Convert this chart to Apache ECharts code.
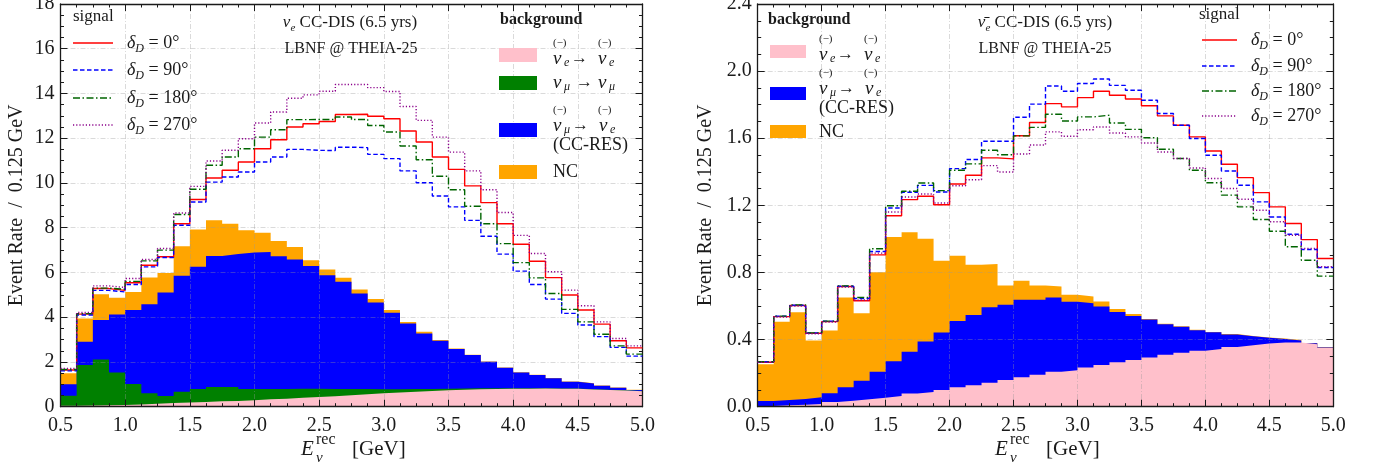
<!DOCTYPE html>
<html>
<head>
<meta charset="utf-8">
<script src="https://cdn.jsdelivr.net/npm/echarts@6/dist/echarts.min.js"></script>
<style>
html,body{margin:0;padding:0;background:#ffffff;}
#chart{width:1385px;height:467px;}
</style>
</head>
<body>
<div id="chart"></div>
<script>
// ---------------- data ----------------
// bin edges of E_nu^rec [GeV], 0.125 GeV bins
const binEdges = [0.5,0.625,0.75,0.875,1.0,1.125,1.25,1.375,1.5,1.625,1.75,1.875,2.0,2.125,2.25,2.375,2.5,2.625,2.75,2.875,3.0,3.125,3.25,3.375,3.5,3.625,3.75,3.875,4.0,4.125,4.25,4.375,4.5,4.625,4.75,4.875,5.0];

// Left panel: nu_e CC-DIS, backgrounds (per bin)
const L_nuee  = [0.04,0.05,0.06,0.08,0.10,0.13,0.16,0.19,0.21,0.24,0.26,0.29,0.33,0.36,0.40,0.43,0.47,0.51,0.56,0.60,0.63,0.67,0.70,0.73,0.76,0.78,0.79,0.80,0.80,0.81,0.80,0.80,0.77,0.75,0.72,0.69];
const L_numu  = [0.45,1.81,2.05,1.45,0.91,0.47,0.32,0.48,0.58,0.64,0.62,0.50,0.46,0.43,0.40,0.37,0.32,0.28,0.23,0.18,0.15,0.12,0.09,0.07,0.05,0.04,0.03,0.02,0.02,0.02,0.01,0.01,0.01,0.01,0.01,0.01];
const L_ccres = [0.51,1.04,1.76,2.59,3.31,3.98,4.62,5.18,5.46,5.86,5.94,6.10,6.13,5.94,5.78,5.49,5.09,4.79,4.27,3.88,3.42,2.93,2.48,2.15,1.77,1.49,1.19,0.92,0.71,0.59,0.46,0.31,0.26,0.18,0.12,0.05];
const L_nc    = [0.49,1.04,1.16,0.75,0.81,1.19,0.88,1.32,1.67,1.59,1.36,1.00,0.86,0.68,0.56,0.26,0.25,0.18,0.18,0.15,0.12,0.07,0.08,0.03,0.02,0.01,0.01,0.01,0.01,0.01,0.01,0.01,0.01,0.01,0.01,0.01];
// Left panel: signal + background totals
const L_sig0   = [1.64,4.14,5.28,5.20,5.54,6.32,6.70,8.18,9.26,10.22,10.57,10.94,11.53,11.93,12.50,12.65,12.75,13.06,13.07,12.98,12.87,12.32,11.83,11.16,10.61,9.87,9.12,8.18,7.26,6.50,5.77,4.99,4.32,3.69,2.95,2.63];
const L_sig90  = [1.60,4.10,5.20,5.13,5.46,6.25,6.67,8.11,9.15,10.04,10.27,10.49,10.94,11.16,11.50,11.46,11.45,11.60,11.58,11.28,11.09,10.54,10.01,9.42,8.93,8.33,7.62,6.82,6.06,5.46,4.81,4.17,3.65,3.13,2.65,2.26];
const L_sig180 = [1.66,4.16,5.30,5.25,5.60,6.52,7.00,8.59,9.72,10.79,11.16,11.53,12.05,12.38,12.83,12.84,12.84,12.95,12.84,12.57,12.28,11.65,11.04,10.30,9.70,8.96,8.18,7.29,6.44,5.76,5.06,4.35,3.79,3.24,2.72,2.35];
const L_sig270 = [1.71,4.21,5.40,5.33,5.73,6.58,7.07,8.66,9.85,10.98,11.46,11.98,12.68,13.17,13.79,13.94,14.10,14.40,14.40,14.26,14.09,13.42,12.80,12.05,11.38,10.54,9.70,8.68,7.66,6.85,6.03,5.21,4.51,3.79,3.05,2.72];

// Right panel: anti-nu_e CC-DIS, backgrounds (per bin)
const R_nuee  = [0.004,0.008,0.012,0.016,0.028,0.036,0.044,0.054,0.064,0.078,0.088,0.100,0.116,0.128,0.143,0.159,0.175,0.190,0.209,0.217,0.233,0.249,0.265,0.279,0.293,0.309,0.322,0.334,0.344,0.356,0.366,0.376,0.382,0.382,0.372,0.350];
const R_ccres = [0.030,0.032,0.034,0.040,0.052,0.080,0.111,0.155,0.207,0.250,0.300,0.342,0.395,0.419,0.450,0.448,0.462,0.447,0.442,0.408,0.384,0.348,0.299,0.262,0.227,0.183,0.154,0.122,0.099,0.075,0.054,0.035,0.022,0.013,0.006,0.003];
const R_nc    = [0.219,0.467,0.517,0.338,0.374,0.535,0.402,0.593,0.740,0.711,0.613,0.428,0.389,0.299,0.257,0.115,0.113,0.085,0.065,0.042,0.040,0.030,0.019,0.011,0.003,0.003,0.003,0.003,0.002,0.002,0.002,0.002,0.002,0.002,0.002,0.002];
// Right panel: signal + background totals
const R_sig0   = [0.265,0.537,0.603,0.438,0.507,0.716,0.631,0.905,1.138,1.234,1.254,1.204,1.327,1.379,1.483,1.477,1.615,1.694,1.806,1.787,1.842,1.880,1.856,1.834,1.794,1.733,1.677,1.608,1.524,1.445,1.365,1.276,1.191,1.092,0.996,0.883];
const R_sig90  = [0.268,0.540,0.605,0.440,0.510,0.718,0.645,0.925,1.184,1.278,1.319,1.280,1.419,1.473,1.582,1.582,1.725,1.803,1.911,1.880,1.926,1.953,1.915,1.886,1.826,1.747,1.677,1.598,1.499,1.405,1.320,1.221,1.131,1.028,0.937,0.830];
const R_sig180 = [0.268,0.540,0.607,0.440,0.510,0.720,0.651,0.941,1.198,1.284,1.333,1.288,1.409,1.447,1.528,1.502,1.614,1.665,1.743,1.703,1.727,1.737,1.691,1.653,1.603,1.534,1.479,1.409,1.335,1.261,1.191,1.116,1.046,0.953,0.873,0.778];
const R_sig270 = [0.265,0.535,0.600,0.435,0.505,0.713,0.636,0.915,1.160,1.250,1.268,1.214,1.317,1.353,1.437,1.399,1.506,1.560,1.638,1.612,1.651,1.667,1.631,1.608,1.572,1.518,1.479,1.423,1.360,1.300,1.236,1.171,1.102,1.022,0.943,0.834];

const signalLabels = ['0°','90°','180°','270°'];

// ---------------- helpers ----------------
const FONT = "'Liberation Serif','DejaVu Serif',serif";
const INK = '#1a1a1a';
const C = {pink:'#ffc0cb', green:'#008000', blue:'#0000ff', orange:'#ffa500',
           s0:'#ff0000', s90:'#0000ff', s180:'#006400', s270:'#8b008b'};
const DASH = {s0:'solid', s90:[4.5,2.5], s180:[7,2.5,1.5,2.5], s270:[1.2,2]};

function cumulative(...arrs){
  return arrs[0].map((_,i)=>arrs.reduce((s,a)=>s+a[i],0));
}
function stepData(vals){
  const pts = vals.map((v,i)=>[binEdges[i], v]);
  pts.push([binEdges[binEdges.length-1], vals[vals.length-1]]);
  return pts;
}
function areaSeries(name, vals, color, gi){
  return {name, type:'line', step:'end', xAxisIndex:gi*2, yAxisIndex:gi*2,
    data:stepData(vals), symbol:'none', showSymbol:false, silent:true,
    lineStyle:{width:0,color}, itemStyle:{color}, areaStyle:{color, opacity:1}, z:2};
}
function lineSeries(name, vals, key, gi){
  return {name, type:'line', step:'end', xAxisIndex:gi*2, yAxisIndex:gi*2,
    data:stepData(vals), symbol:'none', showSymbol:false, silent:true,
    lineStyle:{width:1.4, color:C[key], type:DASH[key]}, itemStyle:{color:C[key]}, z:6};
}
function axesFor(gi, ymax, yint, ydig, gap){
  const tickLine = {color:INK, width:1};
  const common = {gridIndex:gi, type:'value', z:3,
    axisLine:{show:true, onZero:false, lineStyle:{color:INK, width:1.3}},
    axisTick:{show:true, inside:true, length:7, lineStyle:tickLine},
    minorTick:{show:true, splitNumber:4, length:3.5, lineStyle:tickLine}};
  const split = {show:true, lineStyle:{color:'rgba(150,150,150,0.45)', width:0.8, type:[5,2,1,2]}};
  const xb = Object.assign({}, common, {position:'bottom', min:0.5, max:5.0, interval:0.5,
    axisLabel:{show:true, margin:9, color:INK, fontFamily:FONT, fontSize:20, formatter:v=>v.toFixed(1)},
    splitLine:split});
  const xt = Object.assign({}, common, {position:'top', min:0.5, max:5.0, interval:0.5,
    axisLabel:{show:false}, splitLine:{show:false}});
  const yl = Object.assign({}, common, {position:'left', min:0, max:ymax, interval:yint,
    axisLabel:{show:true, margin:6, color:INK, fontFamily:FONT, fontSize:20, formatter:v=>v.toFixed(ydig)},
    splitLine:split,
    name:'Event Rate  /  0.125 GeV', nameLocation:'middle', nameRotate:90, nameGap:gap,
    nameTextStyle:{fontFamily:FONT, fontSize:20, color:INK}});
  const yr = Object.assign({}, common, {position:'right', min:0, max:ymax, interval:yint,
    axisLabel:{show:false}, splitLine:{show:false}});
  return {x:[xb, xt], y:[yl, yr]};
}

const A0 = axesFor(0, 18, 2, 0, 34);
const A1 = axesFor(1, 2.4, 0.4, 1, 42);

// ---------------- legend / annotation graphics ----------------
const richBase = {
  o:{fontSize:11, fontFamily:FONT, width:14, lineHeight:11, fill:INK},
  g:{fontSize:11, width:31, lineHeight:11},
  n:{fontSize:19, fontFamily:FONT, fontStyle:'italic', width:11, lineHeight:20, fill:INK},
  e:{fontSize:12, fontFamily:FONT, fontStyle:'italic', width:7, lineHeight:8, verticalAlign:'bottom', fill:INK},
  m:{fontSize:12, fontFamily:FONT, fontStyle:'italic', width:8, lineHeight:8, verticalAlign:'bottom', fill:INK},
  a:{fontSize:17, fontFamily:FONT, width:27, lineHeight:20, fill:INK},
  sp:{fontSize:10, width:4, lineHeight:20},
  a2:{fontSize:17, fontFamily:FONT, width:22, lineHeight:20, fill:INK},
  c:{fontSize:18, fontFamily:FONT, lineHeight:18, fill:INK}
};
const sigRich = {
  d:{fontSize:18, fontFamily:FONT, fontStyle:'italic', lineHeight:24, fill:INK},
  s:{fontSize:12, fontFamily:FONT, fontStyle:'italic', lineHeight:10, verticalAlign:'bottom', fill:INK},
  t:{fontSize:18, fontFamily:FONT, lineHeight:24, fill:INK}
};
const titleRich = {
  n:{fontSize:17, fontFamily:FONT, fontStyle:'italic', lineHeight:22, fill:INK},
  e:{fontSize:11, fontFamily:FONT, fontStyle:'italic', lineHeight:8, verticalAlign:'bottom', fill:INK},
  t:{fontSize:17, fontFamily:FONT, lineHeight:22, fill:INK}
};

function txt(x, y, text, opts){
  return {type:'text', x, y, silent:true, z:20,
    style:Object.assign({text, fill:INK, fontFamily:FONT, fontSize:17, align:'left', verticalAlign:'middle'}, opts||{})};
}
function rect(x, y, w, h, color){
  return {type:'rect', silent:true, z:20, shape:{x, y, width:w, height:h}, style:{fill:color}};
}
function seg(x1, x2, y, key){
  return {type:'line', silent:true, z:20, shape:{x1, y1:y, x2, y2:y},
    style:{stroke:C[key], lineWidth:1.4, lineDash:DASH[key]==='solid'?null:DASH[key]}};
}
const keys = ['s0','s90','s180','s270'];
function signalLegend(x0, ytitle, xl1, xl2, ys, xt){
  const els = [txt(x0, ytitle, 'signal', {fontSize:17})];
  keys.forEach((k,i)=>{
    els.push(seg(xl1, xl2, ys[i], k));
    els.push(txt(xt, ys[i], '{d|δ}{s|D}{t| = '+signalLabels[i]+'}', {rich:sigRich}));
  });
  return els;
}
const nueText  = '{o|(−)}{g| }{o|(−)}\n{n|ν}{e|e}{a|→}{n|ν}{e|e}';
const numuText = '{n|ν}{m|μ}{sp| }{a2|→}{n|ν}{m|μ}';
const ccresText = '{o|(−)}{g| }{o|(−)}\n{n|ν}{m|μ}{a|→}{n|ν}{e|e}\n{c|(CC-RES)}';

const graphics = [].concat(
  // left panel
  signalLegend(73, 17, 73, 113, [43,70,98,125], 127),
  [
    txt(350, 23, '{n|ν}{e|e}{t| CC-DIS (6.5 yrs)}', {rich:titleRich, align:'center'}),
    txt(351, 49, 'LBNF @ THEIA-25', {fontSize:16, align:'center'}),
    txt(500, 20, 'background', {fontSize:16, fontWeight:'bold'}),
    rect(499, 48, 38, 14, C.pink),
    txt(553, 38, nueText, {rich:richBase, verticalAlign:'top'}),
    rect(499, 76, 38, 14, C.green),
    txt(553, 83, numuText, {rich:richBase}),
    rect(499, 123, 38, 14, C.blue),
    txt(553, 105, ccresText, {rich:richBase, verticalAlign:'top'}),
    rect(499, 165, 38, 14, C.orange),
    txt(553, 172, 'NC', {fontSize:18}),
    // right panel
    txt(768, 20, 'background', {fontSize:16, fontWeight:'bold'}),
    rect(770, 45, 36, 13, C.pink),
    txt(819, 34, nueText, {rich:richBase, verticalAlign:'top'}),
    rect(770, 87, 36, 13, C.blue),
    txt(819, 68, ccresText, {rich:richBase, verticalAlign:'top'}),
    rect(770, 125, 36, 13, C.orange),
    txt(819, 132, 'NC', {fontSize:18}),
    txt(1045, 23, '{n|ν̄}{e|e}{t| CC-DIS (6.5 yrs)}', {rich:titleRich, align:'center'}),
    txt(1045, 49, 'LBNF @ THEIA-25', {fontSize:16, align:'center'})
  ],
  signalLegend(1199, 15, 1202, 1237, [40,66,91,116], 1251),
  // x-axis titles
  [
    txt(301, 449, 'E', {fontSize:21, fontStyle:'italic'}),
    txt(316, 440, 'rec', {fontSize:16}),
    txt(316, 458, 'ν', {fontSize:15, fontStyle:'italic'}),
    txt(352, 449, '[GeV]', {fontSize:21}),
    txt(995, 449, 'E', {fontSize:21, fontStyle:'italic'}),
    txt(1010, 440, 'rec', {fontSize:16}),
    txt(1010, 458, 'ν', {fontSize:15, fontStyle:'italic'}),
    txt(1046, 449, '[GeV]', {fontSize:21})
  ]
);

// ---------------- series ----------------
const series = [
  // left: stacked backgrounds (drawn as cumulative fills, top layer first)
  areaSeries('NC', cumulative(L_nuee, L_numu, L_ccres, L_nc), C.orange, 0),
  areaSeries('CC-RES', cumulative(L_nuee, L_numu, L_ccres), C.blue, 0),
  areaSeries('numu', cumulative(L_nuee, L_numu), C.green, 0),
  areaSeries('nuee', L_nuee, C.pink, 0),
  lineSeries('δD = 0°', L_sig0, 's0', 0),
  lineSeries('δD = 90°', L_sig90, 's90', 0),
  lineSeries('δD = 180°', L_sig180, 's180', 0),
  lineSeries('δD = 270°', L_sig270, 's270', 0),
  // right
  areaSeries('NC', cumulative(R_nuee, R_ccres, R_nc), C.orange, 1),
  areaSeries('CC-RES', cumulative(R_nuee, R_ccres), C.blue, 1),
  areaSeries('nuee', R_nuee, C.pink, 1),
  lineSeries('δD = 0°', R_sig0, 's0', 1),
  lineSeries('δD = 90°', R_sig90, 's90', 1),
  lineSeries('δD = 180°', R_sig180, 's180', 1),
  lineSeries('δD = 270°', R_sig270, 's270', 1)
];

const chart = echarts.init(document.getElementById('chart'), null, {renderer:'canvas'});
chart.setOption({
  animation:false,
  backgroundColor:'#ffffff',
  textStyle:{fontFamily:FONT},
  grid:[
    {left:60.5, top:4, width:582, height:402.7, containLabel:false, outerBoundsMode:'none'},
    {left:757.7, top:4, width:575.6, height:402.7, containLabel:false, outerBoundsMode:'none'}
  ],
  xAxis:[A0.x[0], A0.x[1], A1.x[0], A1.x[1]],
  yAxis:[A0.y[0], A0.y[1], A1.y[0], A1.y[1]],
  series,
  graphic:{elements:graphics}
});
</script>
</body>
</html>
